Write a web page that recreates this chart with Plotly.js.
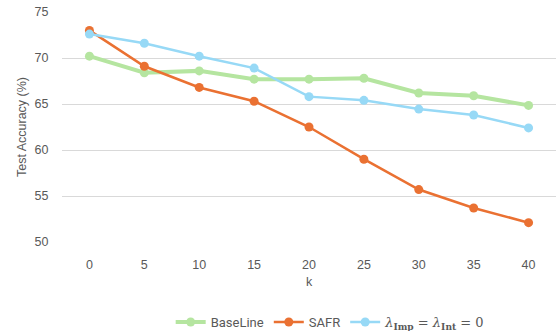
<!DOCTYPE html>
<html><head><meta charset="utf-8">
<script src="https://cdn.plot.ly/plotly-3.0.1.min.js"></script>
<style>body{margin:0;background:#fff}#c{width:556px;height:331px}</style>
</head><body><div id="c"></div>
<script>
const k = [0, 5, 10, 15, 20, 25, 30, 35, 40];
const baseline = [70.2, 68.4, 68.6, 67.7, 67.7, 67.8, 66.2, 65.9, 64.85];
const safr = [73.0, 69.1, 66.8, 65.3, 62.5, 59.0, 55.7, 53.7, 52.1];
const lambdaZero = [72.6, 71.6, 70.2, 68.9, 65.8, 65.4, 64.45, 63.8, 62.4];
const yTicks = [50, 55, 60, 65, 70, 75];

const traces = [
  {x: k, y: baseline, name: 'BaseLine', mode: 'lines+markers',
   line: {color: '#b5e5a0', width: 4}, marker: {color: '#b5e5a0', size: 9}},
  {x: k, y: safr, name: 'SAFR', mode: 'lines+markers',
   line: {color: '#ea7132', width: 2.5}, marker: {color: '#ea7132', size: 9}},
  {x: k, y: lambdaZero,
   name: '<span style="font-family:\'DejaVu Serif\',serif"><i>λ</i><sub><b>Imp</b></sub> = <i>λ</i><sub><b>Int</b></sub> = 0</span>',
   mode: 'lines+markers',
   line: {color: '#97d9f6', width: 2.5}, marker: {color: '#97d9f6', size: 9}}
];

const layout = {
  width: 556, height: 331,
  margin: {l: 62, r: 0, t: 12, b: 89, autoexpand: false},
  paper_bgcolor: '#fff', plot_bgcolor: '#fff',
  font: {family: 'Liberation Sans, Arial, sans-serif', size: 12, color: '#595959'},
  showlegend: true,
  legend: {orientation: 'h', x: 0.22, xanchor: 'left', y: -0.348, yanchor: 'middle',
           itemwidth: 30, tracegroupgap: 0,
           font: {family: 'Roboto, sans-serif', size: 13, color: '#595959'}},
  xaxis: {range: [-2.5, 42.5], tickvals: k, ticktext: k.map(String), showgrid: false,
          zeroline: false, showline: false, ticks: 'outside', ticklen: 11, tickcolor: 'rgba(0,0,0,0)',
          tickfont: {size: 12.5},
          title: {text: 'k', standoff: 6, font: {size: 12.5, color: '#595959'}}},
  yaxis: {range: [50, 75], tickvals: yTicks, showgrid: true, gridcolor: '#d9d9d9', gridwidth: 1,
          zeroline: false, showline: false, ticks: 'outside', ticklen: 10, tickcolor: 'rgba(0,0,0,0)',
          tickfont: {size: 12.5},
          title: {text: 'Test Accuracy (%)', standoff: 5, font: {size: 12.5, color: '#595959'}}}
};

Plotly.newPlot('c', traces, layout, {displayModeBar: false, staticPlot: true});
</script></body></html>
